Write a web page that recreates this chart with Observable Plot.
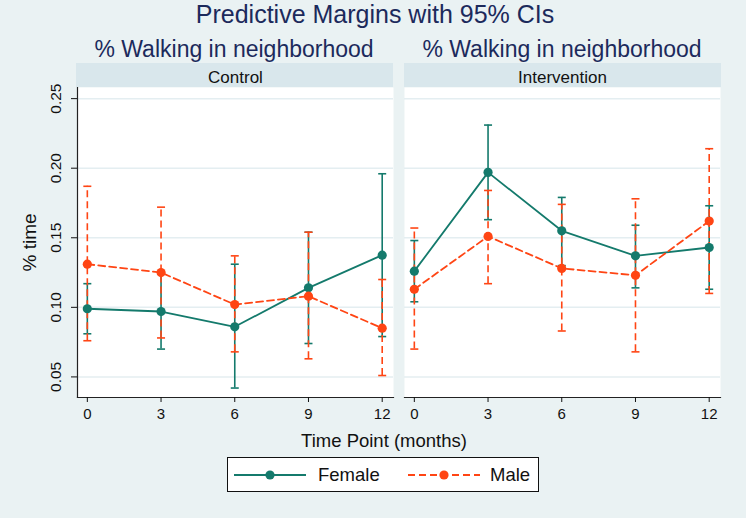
<!DOCTYPE html>
<html>
<head>
<meta charset="utf-8">
<script src="https://cdn.jsdelivr.net/npm/d3@7"></script>
<script src="https://cdn.jsdelivr.net/npm/@observablehq/plot@0.6"></script>
<style>
  html, body { margin: 0; padding: 0; background: #ffffff; }
  #wrap { position: relative; width: 750px; height: 522px; font-family: "Liberation Sans", Arial, sans-serif; }
  #bg { position: absolute; left: 0; top: 0; width: 746px; height: 518px; background: #EAF2F3; }
  .abs { position: absolute; white-space: nowrap; }
  .strip { position: absolute; top: 63px; height: 24px; background: #D9E7EC; }
  .title { color: #1c2a5c; }
  #legend { position: absolute; left: 227px; top: 457px; width: 310px; height: 33px; border: 1.5px solid #111; background: #fff; }
  #chart { position: absolute; left: 0; top: 0; }
  #chart svg { background: transparent; }
</style>
</head>
<body>
<div id="wrap">
  <div id="bg"></div>
  <div class="strip" style="left:76px; width:317px;"></div>
  <div class="strip" style="left:404px; width:317px;"></div>
  <div class="abs title" style="left:0; width:750px; top:0px; text-align:center; font-size:25px; line-height:28px;">Predictive Margins with 95% CIs</div>
  <div class="abs title" style="left:84px; width:300px; top:36px; text-align:center; font-size:23px; line-height:26px;">% Walking in neighborhood</div>
  <div class="abs title" style="left:412px; width:300px; top:36px; text-align:center; font-size:23px; line-height:26px;">% Walking in neighborhood</div>
  <div id="chart"></div>
  <div class="abs" style="left:234px; width:300px; top:430px; text-align:center; font-size:18.5px; line-height:22px; color:#111;">Time Point (months)</div>
  <div id="legend"></div>
</div>
<script>
// ---- data ----
const groups = ["Control", "Intervention"];
const sexes = ["Female", "Male"];
const months = [0, 3, 6, 9, 12];
const yTicks = [0.05, 0.10, 0.15, 0.20, 0.25];

const controlFemale   = [0.099, 0.097, 0.086, 0.114, 0.1375];
const controlFemaleLo = [0.081, 0.070, 0.042, 0.074, 0.079];
const controlFemaleHi = [0.117, 0.124, 0.131, 0.154, 0.196];
const controlMale     = [0.131, 0.125, 0.102, 0.108, 0.085];
const controlMaleLo   = [0.076, 0.078, 0.068, 0.063, 0.051];
const controlMaleHi   = [0.187, 0.172, 0.137, 0.154, 0.120];

const interventionFemale   = [0.126, 0.197, 0.155, 0.137, 0.143];
const interventionFemaleLo = [0.104, 0.163, 0.130, 0.114, 0.113];
const interventionFemaleHi = [0.148, 0.231, 0.179, 0.159, 0.173];
const interventionMale     = [0.113, 0.151, 0.128, 0.123, 0.162];
const interventionMaleLo   = [0.070, 0.117, 0.083, 0.068, 0.110];
const interventionMaleHi   = [0.157, 0.184, 0.174, 0.178, 0.214];

const teal = "#147a6c";
const orange = "#ff4514";

function rows(group, sex, v, lo, hi) {
  return months.map((m, i) => ({group, sex, month: m, value: v[i], lo: lo[i], hi: hi[i]}));
}
const female = [
  ...rows("Control", "Female", controlFemale, controlFemaleLo, controlFemaleHi),
  ...rows("Intervention", "Female", interventionFemale, interventionFemaleLo, interventionFemaleHi)
];
const male = [
  ...rows("Control", "Male", controlMale, controlMaleLo, controlMaleHi),
  ...rows("Intervention", "Male", interventionMale, interventionMaleLo, interventionMaleHi)
];

const cap = {
  draw(ctx, size) {
    const r = Math.sqrt(size / Math.PI);
    ctx.moveTo(-r, 0);
    ctx.lineTo(r, 0);
  }
};

const dash = "7,4";

const chart = Plot.plot({
  width: 750,
  height: 522,
  marginLeft: 76,
  marginRight: 29,
  marginTop: 87,
  marginBottom: 125,
  style: {background: "transparent", fontFamily: "Liberation Sans, Arial, sans-serif", color: "#111"},
  fx: {domain: groups, paddingInner: 0.0335, paddingOuter: 0},
  x: {domain: [-0.4, 12.46]},
  y: {domain: [0.0352, 0.258]},
  marks: [
    Plot.frame({fill: "white", stroke: "none"}),
    Plot.gridY(yTicks, {stroke: "#E4EEF1", strokeOpacity: 1, strokeWidth: 1.5}),
    Plot.frame({anchor: "bottom", stroke: "#222", strokeWidth: 1.2}),
    Plot.frame({anchor: "left", facetAnchor: "left", stroke: "#222", strokeWidth: 1.2}),
    // CIs
    Plot.ruleX(female, {x: "month", y1: "lo", y2: "hi", fx: "group", stroke: teal, strokeWidth: 1.6}),
    Plot.dot(female, {x: "month", y: "lo", fx: "group", symbol: cap, r: 4, fill: "none", stroke: teal, strokeWidth: 1.6}),
    Plot.dot(female, {x: "month", y: "hi", fx: "group", symbol: cap, r: 4, fill: "none", stroke: teal, strokeWidth: 1.6}),
    Plot.ruleX(male, {x: "month", y1: "lo", y2: "hi", fx: "group", stroke: orange, strokeWidth: 1.6, strokeDasharray: dash}),
    Plot.dot(male, {x: "month", y: "lo", fx: "group", symbol: cap, r: 4, fill: "none", stroke: orange, strokeWidth: 1.6}),
    Plot.dot(male, {x: "month", y: "hi", fx: "group", symbol: cap, r: 4, fill: "none", stroke: orange, strokeWidth: 1.6}),
    // lines + markers
    Plot.line(female, {x: "month", y: "value", fx: "group", stroke: teal, strokeWidth: 1.8}),
    Plot.dot(female, {x: "month", y: "value", fx: "group", r: 4.6, fill: teal, stroke: "none"}),
    Plot.line(male, {x: "month", y: "value", fx: "group", stroke: orange, strokeWidth: 1.8, strokeDasharray: dash}),
    Plot.dot(male, {x: "month", y: "value", fx: "group", r: 4.6, fill: orange, stroke: "none"}),
    // axes
    Plot.axisY({ticks: yTicks, tickFormat: d3.format(".2f"), tickRotate: -90, tickSize: 6, tickPadding: 11, fontSize: 15.5,
      label: "% time", labelArrow: "none", labelAnchor: "center", labelOffset: 55}),
    Plot.axisX({ticks: months, tickFormat: d3.format("d"), tickSize: 5, tickPadding: 6, fontSize: 15, label: null}),
    Plot.axisFx({anchor: "top", label: null, tickSize: 0, tickPadding: 5, fontSize: 17})
  ]
});
document.getElementById("chart").appendChild(chart);

// enlarge the y-axis title
chart.querySelectorAll("text").forEach(t => {
  if (t.textContent.trim().startsWith("% time")) t.setAttribute("font-size", "19");
});

// legend
const lg = d3.select("#legend").append("svg").attr("width", 310).attr("height", 33);
const entries = [
  {label: sexes[0], color: teal, dash: null, x0: 6, tx: 90},
  {label: sexes[1], color: orange, dash: dash, x0: 180, tx: 262}
];
entries.forEach(e => {
  lg.append("line").attr("x1", e.x0).attr("x2", e.x0 + 72).attr("y1", 17).attr("y2", 17)
    .attr("stroke", e.color).attr("stroke-width", 1.8).attr("stroke-dasharray", e.dash);
  lg.append("circle").attr("cx", e.x0 + 36).attr("cy", 17).attr("r", 4.6).attr("fill", e.color);
  lg.append("text").attr("x", e.tx).attr("y", 17).attr("dy", "0.35em")
    .attr("font-size", 18.5).attr("font-family", "Liberation Sans, Arial, sans-serif").attr("fill", "#111").text(e.label);
});
</script>
</body>
</html>
